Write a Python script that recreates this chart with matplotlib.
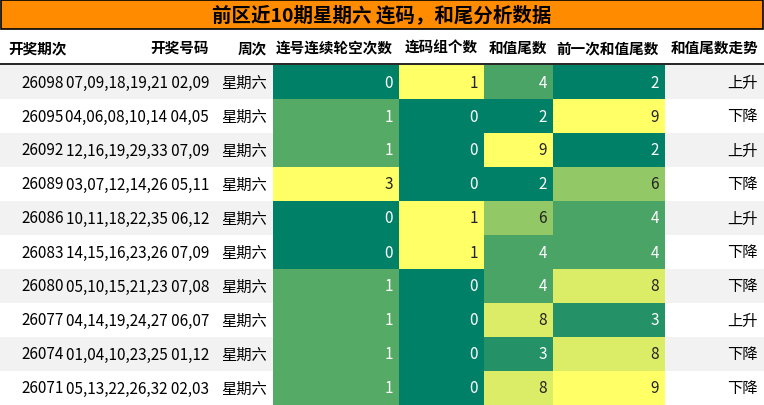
import numpy as np
import matplotlib.pyplot as plt
from matplotlib.patches import Rectangle

title = "前区近10期星期六 连码，和尾分析数据"
headers = ["开奖期次", "开奖号码", "周次", "连号连续轮空次数", "连码组个数", "和值尾数", "前一次和值尾数", "和值尾数走势"]
issues = ["26098", "26095", "26092", "26089", "26086", "26083", "26080", "26077", "26074", "26071"]
numbers = ["07,09,18,19,21 02,09", "04,06,08,10,14 04,05", "12,16,19,29,33 07,09",
           "03,07,12,14,26 05,11", "10,11,18,22,35 06,12", "14,15,16,23,26 07,09",
           "05,10,15,21,23 07,08", "04,14,19,24,27 06,07", "01,04,10,23,25 01,12",
           "05,13,22,26,32 02,03"]
weekday = ["星期六"] * 10
gap_count = [0, 1, 1, 3, 0, 0, 1, 1, 1, 1]
group_count = [1, 0, 0, 0, 1, 1, 0, 0, 0, 0]
sum_tail = [4, 2, 9, 2, 6, 4, 4, 8, 3, 8]
prev_tail = [2, 9, 2, 6, 4, 4, 8, 3, 8, 9]
trend = ["上升", "下降", "上升", "下降", "上升", "下降", "下降", "上升", "下降", "下降"]

W, H = 764, 406
fig = plt.figure(figsize=(W / 100, H / 100), dpi=100)
ax = fig.add_axes([0, 0, 1, 1])
ax.set_xlim(0, W)
ax.set_ylim(H, 0)
ax.axis("off")

fam = ["Liberation Sans Narrow", "Noto Sans CJK SC"]
cjk = ["Noto Sans CJK SC", "Liberation Sans Narrow"]
edges = [0, 70, 215, 273, 399, 484, 553, 665, 764]
cmap = plt.get_cmap("summer")

# title bar
ax.add_patch(Rectangle((1, 1), W - 2, 29, facecolor="#ff8c00", edgecolor="black", lw=1.2))
ax.text(W / 2, 15.5, title, ha="center", va="center", fontsize=14, weight="bold", family=cjk)

# header
hy = 48
for i, h in enumerate(headers):
    if i == 0:
        ax.text(8, hy, h, ha="left", va="center", fontsize=10.5, weight="bold", family=cjk)
    else:
        ax.text(edges[i + 1] - 6, hy, h, ha="right", va="center", fontsize=10.5, weight="bold", family=cjk)
ax.plot([0, W], [65, 65], color="black", lw=1.2)

top, rh = 66, 34
num_cols = [gap_count, group_count, sum_tail, prev_tail]
for r in range(10):
    y0 = top + r * rh
    yc = y0 + rh / 2
    ax.add_patch(Rectangle((0, y0), W, rh, facecolor="#f2f2f2" if r % 2 == 0 else "white", lw=0))
    texts = [issues[r], numbers[r], weekday[r]]
    for i, t in enumerate(texts):
        f = cjk if i == 2 else fam
        ax.text(edges[i + 1] - 6, yc, t, ha="right", va="center", fontsize=11, family=f)
    for j, col in enumerate(num_cols):
        v = col[r]
        lo, hi = min(col), max(col)
        frac = (v - lo) / (hi - lo)
        c = cmap(frac)
        x0, x1 = edges[j + 3], edges[j + 4]
        ax.add_patch(Rectangle((x0, y0), x1 - x0, rh, facecolor=c, lw=0))
        tc = "white" if frac < 0.5 else "#222222"
        ax.text(x1 - 6, yc, str(v), ha="right", va="center", fontsize=11, family=fam, color=tc)
    ax.text(edges[8] - 6, yc, trend[r], ha="right", va="center", fontsize=11, family=cjk)

fig.savefig("out.png", dpi=100)
